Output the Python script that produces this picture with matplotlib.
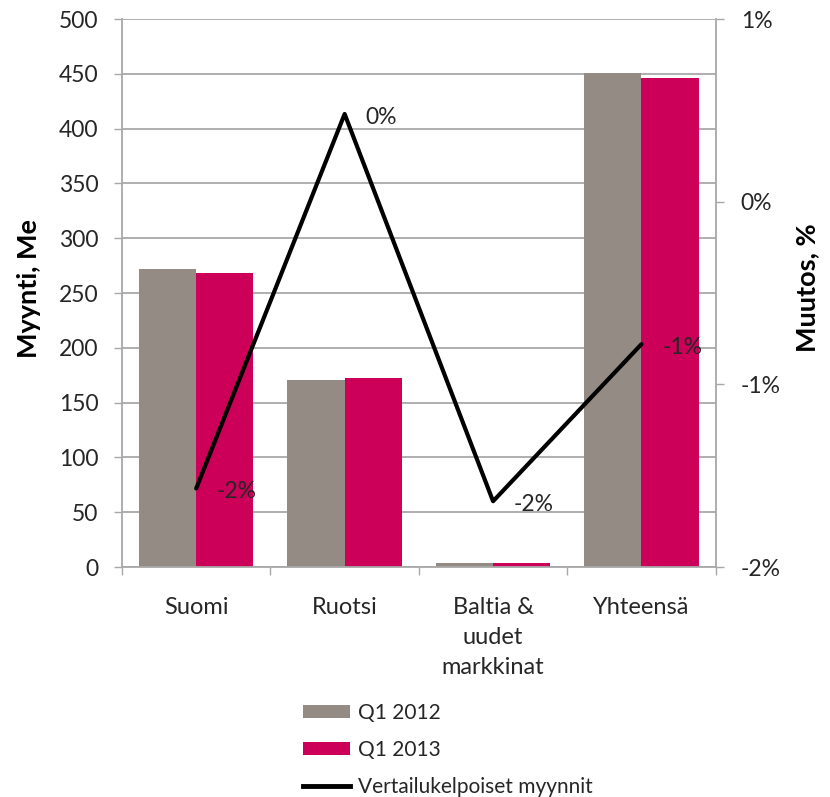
import matplotlib
matplotlib.use("Agg")
import matplotlib.pyplot as plt
from matplotlib.patches import Patch
from matplotlib.lines import Line2D
from matplotlib.ticker import FixedLocator, FuncFormatter, NullFormatter
import numpy as np

# Sales by market area (MEUR) and comparable sales change (%)
categories = ["Suomi", "Ruotsi", "Baltia &\nuudet\nmarkkinat", "Yhteensä"]
sales_q1_2012 = [271.5, 171.0, 3.3, 450.5]
sales_q1_2013 = [268.5, 172.5, 3.8, 446.5]
comparable_change_pct = [-1.57, 0.48, -1.64, -0.78]
series_names = ["Q1 2012", "Q1 2013", "Vertailukelpoiset myynnit"]
left_ticks = [0, 50, 100, 150, 200, 250, 300, 350, 400, 450, 500]
right_ticks = [-2, -1, 0, 1]
left_title = "Myynti, Me"
right_title = "Muutos, %"

GRAY = "#958b85"
MAGENTA = "#cc0058"
GRID = "#a8a8a8"
TEXT = "#262626"

plt.rcParams["font.family"] = ["Lato", "DejaVu Sans"]

W, H = 830, 797
fig = plt.figure(figsize=(W / 100, H / 100), dpi=100)
x0, x1, y_top, y_bot = 122, 715.7, 19, 567
ax = fig.add_axes([x0 / W, 1 - y_bot / H, (x1 - x0) / W, (y_bot - y_top) / H])

x = np.arange(len(categories))
bw = 0.385
ax.bar(x - bw / 2, sales_q1_2012, bw, color=GRAY, zorder=2)
ax.bar(x + bw / 2, sales_q1_2013, bw, color=MAGENTA, zorder=2)

ax.set_xlim(-0.5, len(categories) - 0.5)
ax.set_ylim(left_ticks[0], left_ticks[-1])
ax.yaxis.set_major_locator(FixedLocator(left_ticks))
ax.yaxis.grid(True, color=GRID, lw=1.3, zorder=0)
ax.set_axisbelow(True)

# category boundaries carry the tick marks, centres carry the labels
ax.xaxis.set_major_locator(FixedLocator(np.arange(-0.5, len(categories), 1.0)))
ax.xaxis.set_major_formatter(NullFormatter())
ax.xaxis.set_minor_locator(FixedLocator(x))
ax.xaxis.set_minor_formatter(FuncFormatter(lambda v, p: categories[int(round(v))]))
ax.tick_params(axis="x", which="major", direction="out", length=6, width=1, color=GRID)
ax.tick_params(axis="x", which="minor", length=0, pad=21.5, labelsize=17, labelcolor=TEXT)
for lbl in ax.xaxis.get_minorticklabels():
    lbl.set_linespacing(1.52)
    lbl.set_verticalalignment("top")
ax.tick_params(axis="y", direction="out", length=6, width=1, color=GRID,
               labelsize=16.5, labelcolor=TEXT, pad=11)

for side in ("top", "right"):
    ax.spines[side].set_visible(False)
for side in ("left", "bottom"):
    ax.spines[side].set_color(GRID)
    ax.spines[side].set_linewidth(1.3)

# comparable sales change on the secondary axis
ax2 = ax.twinx()
ax2.plot(x, comparable_change_pct, color="black", lw=3, solid_joinstyle="round",
         solid_capstyle="round", zorder=5)
ax2.set_ylim(right_ticks[0], right_ticks[-1])
ax2.yaxis.set_major_locator(FixedLocator(right_ticks))
ax2.yaxis.set_major_formatter(FuncFormatter(lambda v, p: f"{int(round(v))}%"))
ax2.tick_params(axis="y", direction="out", length=6, width=1, color=GRID,
                labelsize=16.5, labelcolor=TEXT, pad=12)
for side in ("top", "left", "bottom"):
    ax2.spines[side].set_visible(False)
ax2.spines["right"].set_color(GRID)
ax2.spines["right"].set_linewidth(1.3)

for xi, v in zip(x, comparable_change_pct):
    ax2.annotate(f"{int(round(v))}%", (xi, v), xytext=(15, -2.5),
                 textcoords="offset points", ha="left", va="center",
                 fontsize=16.5, color=TEXT)

fig.text(29 / W, 1 - 288 / H, left_title, rotation=90, ha="center", va="center",
         fontsize=19.5, fontweight="bold", color="black")
fig.text(807 / W, 1 - 288 / H, right_title, rotation=90, ha="center", va="center",
         fontsize=19.5, fontweight="bold", color="black")

handles = [Patch(facecolor=GRAY, edgecolor="none"),
           Patch(facecolor=MAGENTA, edgecolor="none"),
           Line2D([], [], color="black", lw=3.5)]
fig.legend(handles, series_names, loc="upper left",
           bbox_to_anchor=(303 / W, 1 - 703 / H), frameon=False, fontsize=15,
           handlelength=2.25, handleheight=0.55, handletextpad=0.38,
           labelspacing=0.82, borderpad=0, borderaxespad=0, labelcolor=TEXT)

fig.savefig("out.png", dpi=100)
